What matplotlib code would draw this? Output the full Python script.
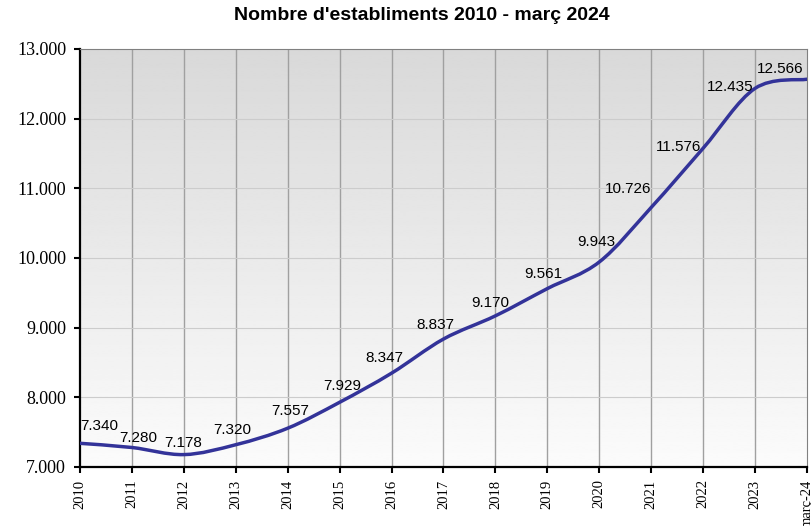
import numpy as np
import matplotlib
matplotlib.use('Agg')
import matplotlib.pyplot as plt
from matplotlib.path import Path
from matplotlib.patches import PathPatch
from matplotlib.ticker import FuncFormatter

# dades
anys = ['2010', '2011', '2012', '2013', '2014', '2015', '2016', '2017',
        '2018', '2019', '2020', '2021', '2022', '2023', 'març-24']
establiments = [7340, 7280, 7178, 7320, 7557, 7929, 8347, 8837,
                9170, 9561, 9943, 10726, 11576, 12435, 12566]

# desplaçament de les etiquetes (píxels: dx, dy)
offsets = [(19, 17), (6, 9), (-1, 12), (-4, 15), (2, 17), (3, 16), (-7, 15),
           (-8, 14), (-5, 13), (-4, 15), (-3, 20), (-23, 18), (-25, 1),
           (-25, 1), (-27, 10)]

LINE = '#333399'


def smooth_path(xs, ys):
    """corba suavitzada tipus Excel (Catmull-Rom -> Bezier)"""
    pts = np.column_stack([xs, ys]).astype(float)
    n = len(pts)
    verts = [pts[0]]
    codes = [Path.MOVETO]
    for i in range(n - 1):
        p0 = pts[i - 1] if i > 0 else pts[i]
        p1 = pts[i]
        p2 = pts[i + 1]
        p3 = pts[i + 2] if i + 2 < n else pts[i + 1]
        c1 = p1 + (p2 - p0) / 6.0
        c2 = p2 - (p3 - p1) / 6.0
        verts += [c1, c2, p2]
        codes += [Path.CURVE4] * 3
    return Path(verts, codes)


fig = plt.figure(figsize=(8.11, 5.26), dpi=100)
ax = fig.add_axes([80 / 811, 1 - 467 / 526, 727 / 811, 418 / 526])

x = np.arange(len(anys))
ax.set_xlim(0, len(anys) - 1)
ax.set_ylim(7000, 13000)

# fons en degradat (clar a baix, gris a dalt)
grad = np.linspace(0.985, 0.85, 256).reshape(-1, 1)
ax.imshow(grad, cmap='gray', vmin=0, vmax=1, aspect='auto', origin='lower',
          extent=[0, len(anys) - 1, 7000, 13000], zorder=0,
          interpolation='bilinear')

for xi in x[1:-1]:
    ax.axvline(xi, color='#a0a0a0', lw=1.0, zorder=1)
for yv in range(8000, 13000, 1000):
    ax.axhline(yv, color='#cccccc', lw=0.8, zorder=1)

patch = PathPatch(smooth_path(x, establiments), facecolor='none',
                  edgecolor=LINE, lw=2.5, zorder=3, capstyle='round')
ax.add_patch(patch)

for xi, v, (dx, dy) in zip(x, establiments, offsets):
    ax.annotate(f'{v:,}'.replace(',', '.'), (xi, v),
                xytext=(dx * 0.72, dy * 0.72), textcoords='offset points',
                ha='center', va='center', fontsize=11,
                family='Liberation Sans', color='black', zorder=4,
                annotation_clip=False)

ax.set_xticks(x)
ax.set_xticklabels(anys, rotation=90, family='Liberation Serif', fontsize=10.5)
ax.set_yticks(range(7000, 13001, 1000))
ax.yaxis.set_major_formatter(FuncFormatter(lambda v, p: f'{int(v):,}'.replace(',', '.')))
for lb in ax.get_yticklabels():
    lb.set_family('Liberation Serif')
    lb.set_fontsize(13)
ax.tick_params(axis='both', direction='out', length=4, width=1.5, color='black')
ax.tick_params(axis='x', pad=5)
ax.tick_params(axis='y', pad=6)

ax.spines['left'].set_linewidth(1.6)
ax.spines['bottom'].set_linewidth(1.6)
ax.spines['top'].set_color('#808080')
ax.spines['right'].set_color('#808080')

fig.text(422 / 811, 1 - 16 / 526, "Nombre d'establiments 2010 - març 2024",
         ha='center', va='center', fontsize=14, fontweight='bold',
         family='Liberation Sans')

fig.savefig('out.png', dpi=100)
plt.close('all')
